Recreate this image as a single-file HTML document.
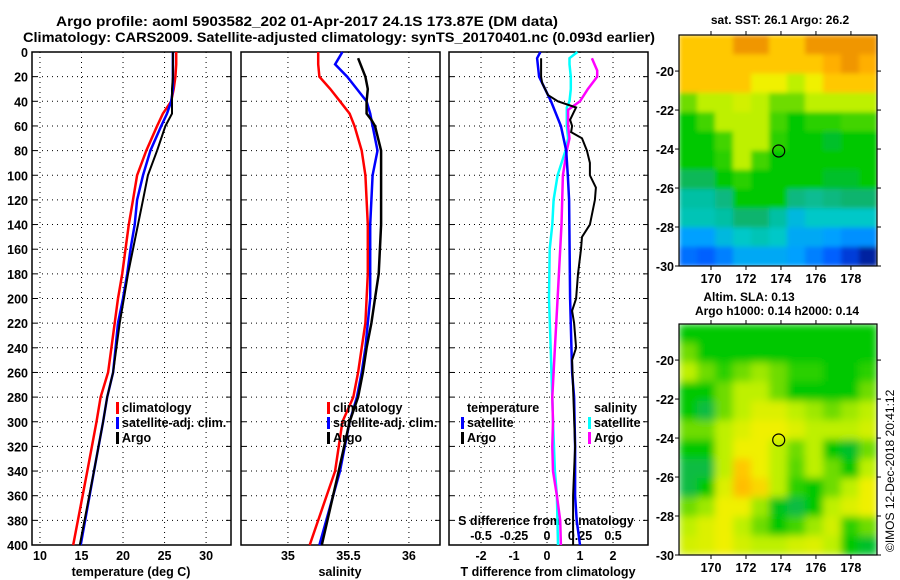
<!DOCTYPE html>
<html><head><meta charset="utf-8"><style>
html,body{margin:0;padding:0;background:#fff;}
svg{display:block;font-family:"Liberation Sans",sans-serif;font-weight:bold;}
</style></head><body>
<svg id="c" width="900" height="580" viewBox="0 0 900 580" xmlns="http://www.w3.org/2000/svg">
<defs>
<filter id="blurSla" filterUnits="userSpaceOnUse" x="679" y="324" width="198" height="231"><feGaussianBlur stdDeviation="4" edgeMode="duplicate"/></filter>
<filter id="blurSst" filterUnits="userSpaceOnUse" x="679" y="35" width="198" height="231"><feGaussianBlur stdDeviation="2.5" edgeMode="duplicate"/></filter>
</defs>
<text x="56" y="26" font-size="14" textLength="502" lengthAdjust="spacingAndGlyphs">Argo profile: aoml 5903582_202 01-Apr-2017 24.1S 173.87E (DM data)</text>
<text x="23" y="42" font-size="14" textLength="632" lengthAdjust="spacingAndGlyphs">Climatology: CARS2009. Satellite-adjusted climatology: synTS_20170401.nc (0.093d earlier)</text>
<text x="780" y="24" text-anchor="middle" font-size="12">sat. SST: 26.1 Argo: 26.2</text>
<text x="749" y="301" text-anchor="middle" font-size="12">Altim. SLA: 0.13</text>
<text x="777" y="315" text-anchor="middle" font-size="12">Argo h1000: 0.14 h2000: 0.14</text>
<text transform="translate(894,552) rotate(-90)" font-size="12" font-weight="normal">©IMOS 12-Dec-2018 20:41:12</text>
</svg>
<script>
// ---- data ----
const depthLevels = [0,10,20,30,40,50,60,80,100,120,140,160,180,200,220,240,260,280,300,340,400];
const tempClim =    [26.4,26.4,26.3,26.1,25.8,24.8,24.1,22.8,21.7,21.2,20.7,20.3,19.9,19.4,19.0,18.6,18.2,17.3,16.8,15.7,14.0];
const tempSat =     [26.0,26.0,26.0,26.0,25.8,25.3,24.6,23.3,22.4,21.7,21.4,20.9,20.5,20.0,19.4,19.1,18.8,18.1,17.6,16.5,14.9];
const tempArgo =    [26.0,26.0,26.0,25.9,25.9,25.9,25.1,24.1,23.0,22.4,21.8,21.2,20.6,20.1,19.6,19.2,18.8,18.1,17.6,16.5,14.8];
const salClim =     [35.25,35.25,35.26,35.35,35.43,35.51,35.55,35.61,35.64,35.65,35.66,35.66,35.66,35.65,35.64,35.61,35.58,35.54,35.45,35.39,35.18];
const salSat =      [35.45,35.39,35.49,35.57,35.65,35.68,35.70,35.74,35.70,35.69,35.68,35.68,35.68,35.68,35.66,35.64,35.61,35.57,35.51,35.43,35.26];
const salArgoDepth = [5,20,30,40,50,55,60,80,100,120,140,160,180,200,220,240,260,280,300,340,400];
const salArgo =     [35.58,35.64,35.66,35.65,35.65,35.69,35.72,35.77,35.77,35.77,35.77,35.76,35.75,35.72,35.69,35.65,35.62,35.58,35.51,35.42,35.28];
const dTsatDepth = [0,5,20,40,60,80,100,120,200,260,280,320,360,380,400];
const dTsat =      [-0.2,-0.3,-0.24,0.12,0.42,0.58,0.63,0.67,0.7,0.76,0.82,0.85,0.85,0.9,1.0];
const dTargoDepth = [5,20,25,35,40,45,50,55,60,65,70,80,90,100,110,120,140,150,160,180,200,210,220,240,250,280,320,360,400];
const dTargo =      [-0.18,-0.18,-0.15,0.03,0.33,0.88,0.79,0.7,0.76,0.73,1.06,1.21,1.3,1.3,1.48,1.45,1.3,1.06,1.03,0.94,0.88,0.76,0.82,0.88,0.76,0.8,0.85,0.79,0.79];
const dSsatDepth = [0,5,10,20,30,40,45,60,70,80,100,120,140,160,200,280,300,340,360,400];
const dSsat =      [0.23,0.17,0.17,0.18,0.18,0.17,0.15,0.15,0.16,0.14,0.08,0.05,0.04,0.02,0.015,0.04,0.045,0.06,0.075,0.083];
const dSargoDepth = [5,15,20,30,40,47,60,70,80,100,140,200,240,280,300,320,340,360,380,400];
const dSargo =      [0.34,0.38,0.38,0.31,0.25,0.16,0.16,0.17,0.15,0.12,0.11,0.08,0.06,0.04,0.045,0.04,0.045,0.075,0.1,0.105];
const depthTicks = [0,20,40,60,80,100,120,140,160,180,200,220,240,260,280,300,320,340,360,380,400];
const tempTicks = [10,15,20,25,30];
const salTicks = [35,35.5,36];
const dTTicks = [-2,-1,0,1,2];
const dSTicks = [-0.5,-0.25,0,0.25,0.5];
const dSTickLabels = ["-0.5","-0.25","0","0.25","0.5"];
const latTicks = [-20,-22,-24,-26,-28,-30];
const lonTicks = [170,172,174,176,178];
const argoLon = 173.87, argoLat = -24.1;
const sstGrid = [
[5,5,5,6,6,5,5,6,6,6,6],
[5,5,5,5,5,5,5,5,5.5,6,5.5],
[5,5,5,5,4.5,4.5,4,4.5,5,5,5],
[3.5,4,4,4.2,4,3.5,3.5,4,4,4,4],
[3,3.3,4,4,4,3.3,3,3.2,3.2,3.3,3.3],
[3,3,3.3,4,4,3.2,3,3,2.8,3,3],
[3,3,3.2,4,3.3,3,3,3,3,3,3],
[2.6,2.6,3,3.2,3,3,3,3,2.8,2.8,3],
[2.2,2.2,2.4,3,3,3,2.4,2.3,2.4,2.5,2.5],
[2.1,2.1,2.2,2.5,2.5,2.2,1.8,2,2,2,2],
[1.5,1.5,1.8,2,2.1,2,1.6,1.6,1.5,1.4,1.4],
[1.2,1.1,1.3,1.6,1.6,1.6,1.5,1.3,1.1,0.8,0.5]];
const slaGrid = [
[3,3,3,3,3,3,3,3,3,3,3],
[3.5,3,3,3,3,3,3,3,3,3,3],
[4,3.5,3.2,3.5,3.8,3.5,3.2,3.2,3,3,3.2],
[3,3,3.5,4,4,3.5,3,3,3,3,3.5],
[3,2.7,3.5,4,4.3,4.3,4,3.8,3.5,3.8,4],
[3.5,3.5,4,4.3,4.5,4.5,4.3,4,4,4,4.2],
[3,3,4,4.5,4.5,4,3.5,4,3,2.8,3.5],
[2.7,2.7,4,5,4.5,4,3.4,4,3.5,3,4],
[2.7,3,4.3,5.2,4.8,4,3.2,3,3.5,4,4.5],
[3.5,3.8,4.5,4.5,3.8,2.9,2.7,3,4,4.3,4.5],
[4,4.3,4.5,4,3.5,3,3.3,3.8,4.2,3.2,3.5],
[4.2,4.3,4.5,4.2,4,4,4.2,4.3,4,3,2.8]];

// ---- drawing ----
const NS="http://www.w3.org/2000/svg", svg=document.getElementById('c');
function mk(tag,attrs,parent){const e=document.createElementNS(NS,tag);for(const k in attrs)e.setAttribute(k,attrs[k]);(parent||svg).appendChild(e);return e;}
const TOP=52,BOT=545;
const yD=d=>TOP+(BOT-TOP)*d/400;
const panels=[
 {x0:32,x1:231,min:9.04,max:33.0,name:'temperature-panel'},
 {x0:241,x1:440,min:34.612,max:36.257,name:'salinity-panel'},
 {x0:449,x1:648,min:-2.97,max:3.06,name:'difference-panel'}];
function xf(p){return v=>p.x0+(p.x1-p.x0)*(v-p.min)/(p.max-p.min);}
const xT=xf(panels[0]),xS=xf(panels[1]),xDT=xf(panels[2]),xDS=v=>xDT(v*4);

panels.forEach((p,i)=>{
  const g=mk('g',{});
  
  
  depthTicks.forEach(d=>{
    if(d>0&&d<400){const l=mk('line',{x1:p.x0,x2:p.x1,y1:yD(d),y2:yD(d),stroke:'#000','stroke-dasharray':'1 4','stroke-width':1},g);
    }
    mk('line',{x1:p.x0,x2:p.x0+5,y1:yD(d),y2:yD(d),stroke:'#000'},g);
    mk('line',{x1:p.x1-5,x2:p.x1,y1:yD(d),y2:yD(d),stroke:'#000'},g);
  });
  const ticks=i==0?tempTicks:i==1?salTicks:dTTicks, f=xf(p);
  ticks.forEach(v=>{
    const l=mk('line',{x1:f(v),x2:f(v),y1:TOP,y2:BOT,stroke:'#000','stroke-dasharray':'1 4'},g);
    
    const t=mk('text',{x:f(v),y:560,'text-anchor':'middle','font-size':12.5},g);t.textContent=String(v);
    
  });
  const r=mk('rect',{x:p.x0,y:TOP,width:p.x1-p.x0,height:BOT-TOP,fill:'none',stroke:'#000','stroke-width':1.5},g);
  
});
depthTicks.forEach(d=>{const t=mk('text',{x:28,y:yD(d)+5,'text-anchor':'end','font-size':12.5});t.textContent=d;
 });
[['temperature (deg C)',131],['salinity',340],['T difference from climatology',548]].forEach(([s,x])=>{
 const t=mk('text',{x:x,y:576,'text-anchor':'middle','font-size':12.5});t.textContent=s;
 });
const st=mk('text',{x:546,y:525,'text-anchor':'middle','font-size':12.5});st.textContent='S difference from climatology';

dSTicks.forEach((v,i)=>{const t=mk('text',{x:xDS(v),y:540,'text-anchor':'middle','font-size':12.5});t.textContent=dSTickLabels[i];
 });

function line(depths,vals,fx,color,w,name){
  const pts=depths.map((d,i)=>fx(vals[i]).toFixed(1)+','+yD(d).toFixed(1)).join(' ');
  const l=mk('polyline',{points:pts,fill:'none',stroke:color,'stroke-width':w});
  
  
}
line(depthLevels,tempClim,xT,'#f00',2.5,'temp-climatology-line');
line(depthLevels,tempSat,xT,'#00f',2.5,'temp-satellite-line');
line(depthLevels,tempArgo,xT,'#000',2,'temp-argo-line');
line(depthLevels,salClim,xS,'#f00',2.5,'sal-climatology-line');
line(depthLevels,salSat,xS,'#00f',2.5,'sal-satellite-line');
line(salArgoDepth,salArgo,xS,'#000',2.5,'sal-argo-line');
line(dSsatDepth,dSsat,xDS,'#0ff',2.5,'sdiff-satellite-line');
line(dSargoDepth,dSargo,xDS,'#f0f',2.5,'sdiff-argo-line');
line(dTsatDepth,dTsat,xDT,'#00f',2.5,'tdiff-satellite-line');
line(dTargoDepth,dTargo,xDT,'#000',2,'tdiff-argo-line');

function legend(x,y,items,name){
  items.forEach(([c,s],i)=>{
    const yy=y+i*15;
    if(c){mk('rect',{x:x,y:yy-10,width:3,height:12,fill:c});}
    const t=mk('text',{x:x+6,y:yy,'font-size':12.5});t.textContent=s;
    
  });
}
const lg=[['#f00','climatology'],['#00f','satellite-adj. clim.'],['#000','Argo']];
legend(116,412,lg,'temp-legend');
legend(327,412,lg,'sal-legend');
legend(461,412,[[null,'temperature'],['#00f','satellite'],['#000','Argo']],'tdiff-legend');
const sl=mk('text',{x:594,y:412,'font-size':12.5});sl.textContent='salinity';

legend(588,427,[['#0ff','satellite'],['#f0f','Argo']],'sdiff-legend');

// ---- maps ----
const cstops=[[0.5,[0,32,160]],[1,[0,80,255]],[1.5,[0,160,255]],[2,[0,200,200]],[2.5,[16,180,110]],[3,[0,200,0]],[3.5,[110,220,0]],[4,[190,240,0]],[4.5,[240,240,0]],[5,[255,200,0]],[5.5,[255,175,0]],[6,[240,150,0]]];
function cmap(v){
  if(v<=cstops[0][0])return 'rgb('+cstops[0][1]+')';
  for(let i=1;i<cstops.length;i++){if(v<=cstops[i][0]){const a=cstops[i-1],b=cstops[i],t=(v-a[0])/(b[0]-a[0]);
    return 'rgb('+a[1].map((c,k)=>Math.round(c+(b[1][k]-c)*t)).join(',')+')';}}
  return 'rgb('+cstops[cstops.length-1][1]+')';
}
function drawMap(top,bottom,grid,name,filt){
  const L=679,R=877,lonMin=168.17,lonMax=179.49,latTop=-18.15,latBot=-30;
  const xL=v=>L+(R-L)*(v-lonMin)/(lonMax-lonMin), yL=v=>top+(bottom-top)*(v-latTop)/(latBot-latTop);
  const g=mk('g',{});
  
  
  const cg=mk('g',{filter:'url(#'+filt+')'},g);
  const rows=grid.length,cols=grid[0].length,cw=(R-L)/cols,ch=(bottom-top)/rows;
  grid.forEach((row,r)=>row.forEach((v,c)=>{
    const cell=mk('rect',{x:L+c*cw,y:top+r*ch,width:cw+0.6,height:ch+0.6,fill:cmap(v)},cg);
    
    
  }));
  mk('rect',{x:L,y:top,width:R-L,height:bottom-top,fill:'none',stroke:'#000','stroke-width':1.2},g);
  latTicks.forEach(v=>{mk('line',{x1:L-4,x2:L,y1:yL(v),y2:yL(v),stroke:'#000'},g);mk('line',{x1:R,x2:R+4,y1:yL(v),y2:yL(v),stroke:'#000'},g);
    const t=mk('text',{x:L-5,y:yL(v)+5,'text-anchor':'end','font-size':12.5},g);t.textContent=v;
    });
  lonTicks.forEach(v=>{mk('line',{x1:xL(v),x2:xL(v),y1:top-4,y2:top,stroke:'#000'},g);mk('line',{x1:xL(v),x2:xL(v),y1:bottom,y2:bottom+4,stroke:'#000'},g);
    const t=mk('text',{x:xL(v),y:bottom+17,'text-anchor':'middle','font-size':12.5},g);t.textContent=v;
    });
  const m=mk('circle',{cx:xL(argoLon),cy:yL(argoLat),r:6,fill:'none',stroke:'#000','stroke-width':1.2},g);
  
}
drawMap(35,266,sstGrid,'sst-map','blurSst');
drawMap(324,555,slaGrid,'sla-map','blurSla');
</script>
</body></html>
